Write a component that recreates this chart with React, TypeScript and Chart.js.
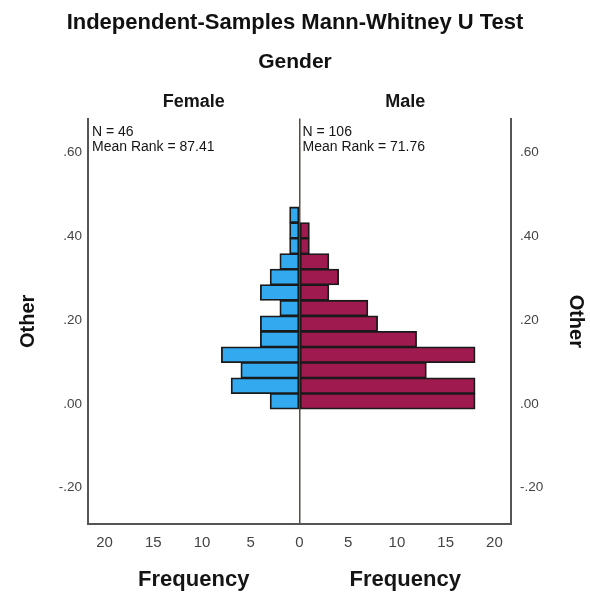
import React, { useEffect, useRef } from "react";
import { Chart, registerables } from "chart.js";

Chart.register(...registerables);

// Bin centres of the "Other" variable (bottom to top)
const binCenters = [0.0059, 0.0430, 0.0801, 0.1172, 0.1543, 0.1914, 0.2285, 0.2656, 0.3027, 0.3398, 0.3769, 0.4140, 0.4511];
// Frequencies per bin, bottom to top
const femaleFreq = [3, 7, 6, 8, 4, 4, 2, 4, 3, 2, 1, 1, 1];
const maleFreq = [18, 18, 13, 18, 12, 8, 7, 3, 4, 3, 1, 1, 0];

const groupLabels = ["Female", "Male"];
const groupN = ["46", "106"];
const groupMeanRank = ["87.41", "71.76"];

const chartTitle = "Independent-Samples Mann-Whitney U Test";
const chartSubtitle = "Gender";
const yTitle = "Other";
const xTitle = "Frequency";

const yMin = -0.287;
const yMax = 0.681;
const xLimit = 21.7;

const FONT = 'Arial, "Liberation Sans", sans-serif';

const fmtY = (v: number) => {
  const s = Number(v).toFixed(2);
  return s.replace("0.", ".");
};

const textPlugin = {
  id: "panelText",
  afterDraw(chart: any) {
    const { ctx, chartArea, scales } = chart;
    const x = scales.x;
    const c0 = x.getPixelForValue(0);
    const mids = [(chartArea.left + c0) / 2, (c0 + chartArea.right) / 2];
    const lefts = [chartArea.left + 4, c0 + 3];
    ctx.save();
    ctx.fillStyle = "#151515";
    ctx.textBaseline = "middle";
    // group headers
    ctx.textAlign = "center";
    ctx.font = `bold 18px ${FONT}`;
    groupLabels.forEach((g, i) => ctx.fillText(g, mids[i], chartArea.top - 17));
    // Frequency axis titles
    ctx.font = `bold 22px ${FONT}`;
    mids.forEach((m) => ctx.fillText(xTitle, m, chartArea.bottom + 56));
    // annotations
    ctx.textAlign = "left";
    ctx.font = `14px ${FONT}`;
    groupLabels.forEach((_, i) => {
      ctx.fillText(`N = ${groupN[i]}`, lefts[i], chartArea.top + 14);
      ctx.fillText(`Mean Rank = ${groupMeanRank[i]}`, lefts[i], chartArea.top + 29);
    });
    ctx.restore();
  },
};

export default function App() {
  const ref = useRef<HTMLCanvasElement | null>(null);

  useEffect(() => {
    if (!ref.current) return;
    const common = {
      borderColor: "#1a1a1a",
      borderWidth: 1.8,
      borderSkipped: false,
      grouped: false,
      barPercentage: 1,
      categoryPercentage: 1,
      inflateAmount: 0.5,
    };
    const chart = new Chart(ref.current, {
      type: "bar",
      data: {
        datasets: [
          {
            label: groupLabels[0],
            data: binCenters.map((y, i) => ({ x: femaleFreq[i] === 0 ? null : -femaleFreq[i], y })) as any,
            backgroundColor: "#33aaf0",
            ...common,
          } as any,
          {
            label: groupLabels[1],
            data: binCenters.map((y, i) => ({ x: maleFreq[i] === 0 ? null : maleFreq[i], y })) as any,
            backgroundColor: "#9e1a4f",
            ...common,
          } as any,
        ],
      },
      options: {
        indexAxis: "y",
        responsive: false,
        animation: false,
        layout: { padding: 0 },
        plugins: {
          legend: { display: false },
          tooltip: { enabled: false },
          title: {
            display: true,
            text: chartTitle,
            color: "#111",
            font: { family: FONT, size: 22, weight: "bold" },
            padding: { top: 10, bottom: 5 },
          },
          subtitle: {
            display: true,
            text: chartSubtitle,
            color: "#111",
            font: { family: FONT, size: 21, weight: "bold" },
            padding: { top: 8, bottom: 44 },
          },
        },
        scales: {
          x: {
            type: "linear",
            min: -xLimit,
            max: xLimit,
            z: 1,
            ticks: {
              stepSize: 5,
              includeBounds: false,
              padding: 10,
              color: "#444",
              font: { family: FONT, size: 15 },
              callback: (v: any) => String(Math.abs(Number(v))),
            },
            grid: {
              drawTicks: false,
              color: (ctx: any) => (ctx.tick && ctx.tick.value === 0 ? "#5a4c40" : "rgba(0,0,0,0)"),
              lineWidth: 1.5,
            },
            border: { display: true, color: "#555", width: 2 },
            afterFit: (s: any) => {
              s.height = 73;
            },
          },
          y: {
            type: "linear",
            position: "left",
            min: yMin,
            max: yMax,
            offset: false,
            ticks: {
              stepSize: 0.2,
              includeBounds: false,
              padding: 6,
              color: "#444",
              font: { family: FONT, size: 13.5 },
              callback: (v: any) => fmtY(v),
            },
            grid: { display: false, drawTicks: false },
            border: { display: true, color: "#555", width: 2 },
            title: {
              display: true,
              text: yTitle,
              color: "#111",
              font: { family: FONT, size: 20, weight: "bold" },
              padding: { top: 16, bottom: 0 },
            },
            afterFit: (s: any) => {
              s.width = 88;
            },
          },
          y2: {
            type: "linear",
            position: "right",
            min: yMin,
            max: yMax,
            offset: false,
            ticks: {
              stepSize: 0.2,
              includeBounds: false,
              padding: 9,
              color: "#444",
              font: { family: FONT, size: 13.5 },
              callback: (v: any) => fmtY(v),
            },
            grid: { display: false, drawTicks: false },
            border: { display: true, color: "#555", width: 2 },
            title: {
              display: true,
              text: yTitle,
              color: "#111",
              font: { family: FONT, size: 20, weight: "bold" },
              padding: { top: 2, bottom: 0 },
            },
            afterFit: (s: any) => {
              s.width = 79;
            },
          },
        },
      } as any,
      plugins: [textPlugin],
    });
    return () => chart.destroy();
  }, []);

  return (
    <div style={{ position: "fixed", left: 0, top: 0, width: 590, height: 597, background: "#fff" }}>
      <canvas ref={ref} width={590} height={597} style={{ display: "block" }} />
    </div>
  );
}
